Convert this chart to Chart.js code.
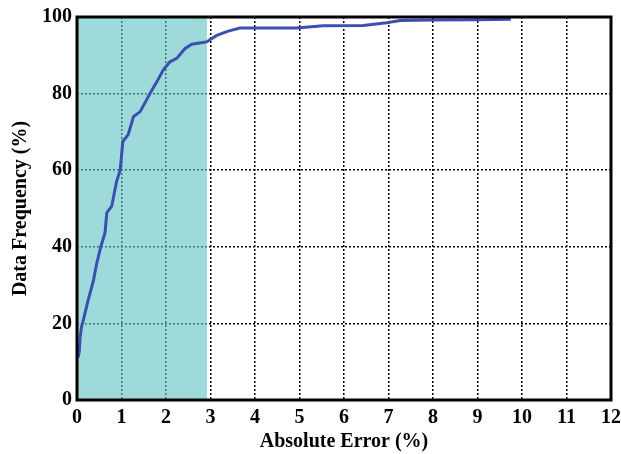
<!DOCTYPE html>
<html>
<head>
<meta charset="utf-8">
<script src="https://cdn.jsdelivr.net/npm/chart.js@4.4.1/dist/chart.umd.min.js"></script>
<style>
  html, body { margin: 0; padding: 0; background: #fff; }
  #wrap { width: 621px; height: 454px; }
</style>
</head>
<body>
<div id="wrap"><canvas id="cdf"></canvas></div>
<script>
// curve
const errX = [0.02, 0.05, 0.07, 0.1, 0.14, 0.25, 0.37, 0.44, 0.53, 0.63, 0.67, 0.78, 0.89, 0.97,
    1.03, 1.15, 1.27, 1.42, 1.64, 1.79, 1.94, 2.09, 2.24, 2.43, 2.58, 2.91, 3.14, 3.4, 3.66,
    4.94, 5.53, 6.43, 6.96, 7.26, 8.0, 9.0, 9.75];
const freq = [11, 12.5, 16.4, 19, 20.8, 26, 31.2, 35.5, 39.8, 43.7, 48.9, 50.6, 57.1, 60,
    67.5, 69.3, 74, 75.3, 80, 83, 86.2, 88.3, 89.2, 91.8, 92.9, 93.5, 95.2, 96.3, 97.1,
    97.1, 97.7, 97.8, 98.5, 99.1, 99.2, 99.3, 99.4];
// shaded band
const bandX = [0, 2.92];
const bandTop = [100, 100];
const xTicks = [0, 1, 2, 3, 4, 5, 6, 7, 8, 9, 10, 11, 12];
const yTicks = [0, 20, 40, 60, 80, 100];

const frame = {
    id: "frame",
    afterDatasetsDraw(chart) {
        const a = chart.chartArea;
        const ctx = chart.ctx;
        ctx.save();
        ctx.strokeStyle = "#000";
        ctx.lineWidth = 3;
        ctx.strokeRect(a.left, a.top, a.right - a.left, a.bottom - a.top);
        ctx.restore();
    }
};

const ctx = document.getElementById("cdf").getContext("2d");
new Chart(ctx, {
    type: "line",
    data: {
        datasets: [
            {
                data: errX.map((x, i) => ({ x: x, y: freq[i] })),
                borderColor: "#3b4fb3",
                borderWidth: 3,
                pointRadius: 0,
                tension: 0,
                fill: false,
                order: 0
            },
            {
                data: bandX.map((x, i) => ({ x: x, y: bandTop[i] })),
                borderWidth: 0,
                pointRadius: 0,
                backgroundColor: "rgba(100,196,196,0.62)",
                fill: "origin",
                order: 1
            }
        ]
    },
    options: {
        responsive: true,
        maintainAspectRatio: false,
        animation: false,
        layout: { padding: { top: 15, right: 0, left: 9, bottom: 0 } },
        plugins: { legend: { display: false }, tooltip: { enabled: false } },
        scales: {
            x: {
                type: "linear",
                min: 0,
                max: 12,
                afterBuildTicks: (s) => { s.ticks = xTicks.map((v) => ({ value: v })); },
                afterFit: (s) => { s.height = 54; s.paddingRight = 10; },
                grid: { color: "#000", lineWidth: 1.5, drawTicks: false },
                border: { display: false, dash: [2, 2] },
                ticks: {
                    color: "#000",
                    padding: 6,
                    maxRotation: 0,
                    font: { family: "Liberation Serif", size: 20, weight: "bold" }
                },
                title: {
                    display: true,
                    text: "Absolute Error (%)",
                    color: "#000",
                    padding: { top: 0, bottom: 0 },
                    font: { family: "Liberation Serif", size: 20, weight: "bold" }
                }
            },
            y: {
                min: 0,
                max: 100,
                afterBuildTicks: (s) => { s.ticks = yTicks.map((v) => ({ value: v })); },
                grid: { color: "#000", lineWidth: 1.5, drawTicks: false },
                border: { display: false, dash: [2, 2] },
                ticks: {
                    color: "#000",
                    padding: 5,
                    font: { family: "Liberation Serif", size: 20, weight: "bold" }
                },
                title: {
                    display: true,
                    text: "Data Frequency (%)",
                    color: "#000",
                    padding: { top: 0, bottom: 4 },
                    font: { family: "Liberation Serif", size: 20, weight: "bold" }
                }
            }
        }
    },
    plugins: [frame]
});
</script>
</body>
</html>
